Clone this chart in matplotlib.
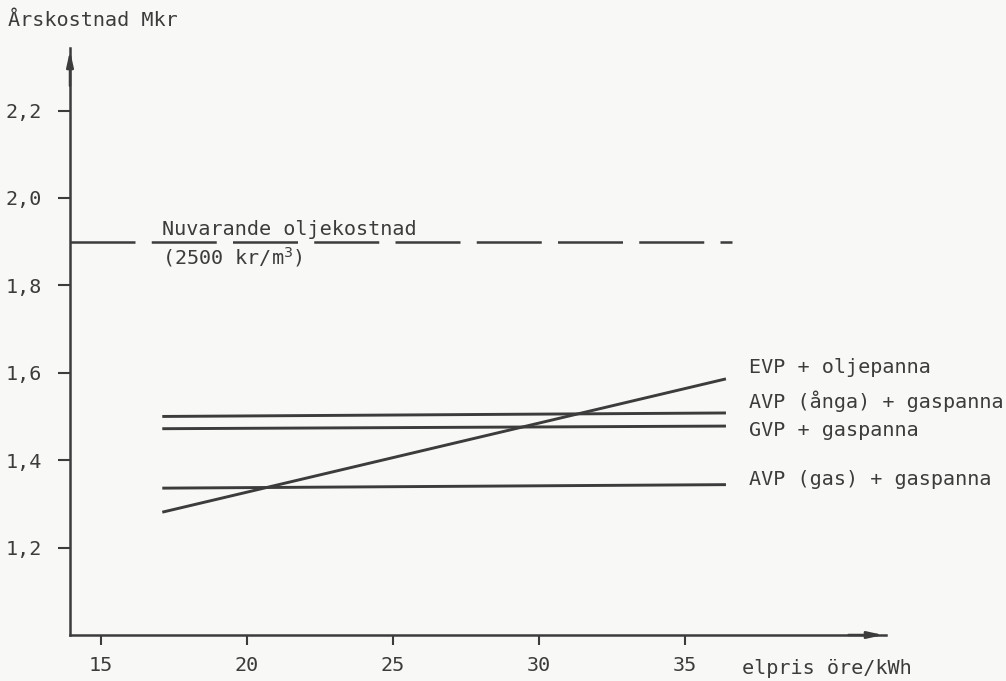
import matplotlib.pyplot as plt

# Data (elpris öre/kWh vs Årskostnad Mkr)
x_range = [17.1, 36.4]
evp_olje = [1.281, 1.586]
avp_anga = [1.500, 1.508]
gvp_gas = [1.472, 1.478]
avp_gas = [1.336, 1.344]
olje_x = [13.94, 36.6]
olje_cost = [1.90, 1.90]

series_labels = ["EVP + oljepanna", "AVP (ånga) + gaspanna",
                 "GVP + gaspanna", "AVP (gas) + gaspanna"]
x_ticks = [15, 20, 25, 30, 35]
y_ticks = [1.2, 1.4, 1.6, 1.8, 2.0, 2.2]
y_ticklabels = ["1,2", "1,4", "1,6", "1,8", "2,0", "2,2"]

ink = '#3c3c3c'
bg = '#f8f8f6'
plt.rcParams['font.family'] = ['DejaVu Sans Mono', 'DejaVu Sans']
fs = 14.5

fig = plt.figure(figsize=(10.06, 6.81), dpi=100, facecolor=bg)
ax = fig.add_axes([70 / 1006, 46 / 681, 816 / 1006, 587 / 681])
ax.set_facecolor(bg)
ax.set_xlim(13.94, 41.88)
ax.set_ylim(1.0, 2.343)

# series
for ys in [evp_olje, avp_anga, gvp_gas, avp_gas]:
    ax.plot(x_range, ys, color=ink, lw=2.1, solid_capstyle='butt', clip_on=False)

# current oil cost, dashed
ax.plot(olje_x, olje_cost, color=ink, lw=1.8, dashes=(26, 6.5), clip_on=False)
ax.text(17.1, 1.905, "Nuvarande oljekostnad", color=ink, fontsize=fs,
        va='bottom', ha='left')
ax.text(17.1, 1.893, "(2500 kr/m$^3$)", color=ink, fontsize=fs,
        va='top', ha='left')

# series labels at the right end
label_y = [1.612, 1.534, 1.468, 1.356]
for lab, ly in zip(series_labels, label_y):
    ax.text(37.2, ly, lab, color=ink, fontsize=fs, va='center', ha='left')

# axes drawn as arrows
for side in ['top', 'right']:
    ax.spines[side].set_visible(False)
for side in ['left', 'bottom']:
    ax.spines[side].set_color(ink)
    ax.spines[side].set_linewidth(1.8)
ax.annotate('', xy=(13.94, 2.343), xytext=(13.94, 2.25),
            arrowprops=dict(arrowstyle='-|>,head_length=0.9,head_width=0.2',
                            color=ink, lw=1.8), annotation_clip=False)
ax.annotate('', xy=(41.88, 1.0), xytext=(40.5, 1.0),
            arrowprops=dict(arrowstyle='-|>,head_length=0.9,head_width=0.2',
                            color=ink, lw=1.8), annotation_clip=False)

ax.set_xticks(x_ticks)
ax.set_xticklabels([str(t) for t in x_ticks])
ax.set_yticks(y_ticks)
ax.set_yticklabels(y_ticklabels)
ax.tick_params(axis='y', direction='out', length=8.5, width=1.5, color=ink,
               labelcolor=ink, labelsize=fs, pad=12)
ax.tick_params(axis='x', direction='out', length=7, width=1.5, color=ink,
               labelcolor=ink, labelsize=fs, pad=8)

fig.text(8 / 1006, 1 - 20 / 681, "Årskostnad Mkr", color=ink, fontsize=fs,
         va='center', ha='left')
fig.text(742 / 1006, 1 - 668 / 681, "elpris öre/kWh", color=ink, fontsize=fs,
         va='center', ha='left')

fig.savefig('out.png', dpi=100, facecolor=bg)
